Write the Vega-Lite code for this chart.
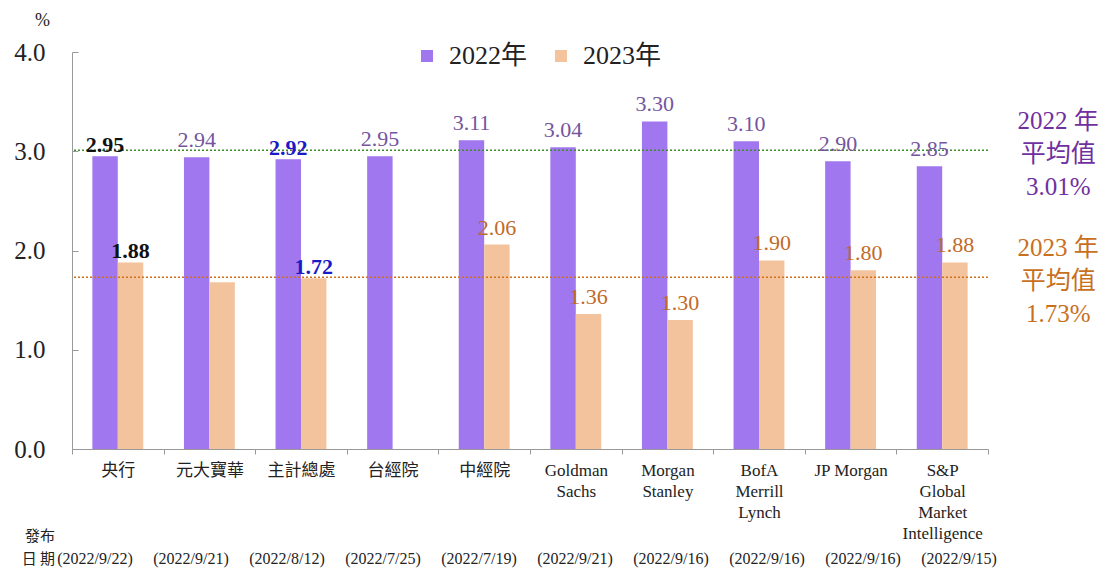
{
  "$schema": "https://vega.github.io/schema/vega-lite/v6.json",
  "width": 916,
  "height": 397,
  "autosize": {"type": "none"},
  "padding": {"left": 72, "top": 52, "right": 122, "bottom": 120},
  "background": "white",
  "config": {"view": {"stroke": null}},
  "datasets": {
    "vals": [
      {"org": "央行", "year": "2022年", "value": 2.95, "label": "2.95"},
      {"org": "央行", "year": "2023年", "value": 1.88, "label": "1.88"},
      {"org": "元大寶華", "year": "2022年", "value": 2.94, "label": "2.94"},
      {"org": "元大寶華", "year": "2023年", "value": 1.68, "label": ""},
      {"org": "主計總處", "year": "2022年", "value": 2.92, "label": "2.92"},
      {"org": "主計總處", "year": "2023年", "value": 1.72, "label": "1.72"},
      {"org": "台經院", "year": "2022年", "value": 2.95, "label": "2.95"},
      {"org": "中經院", "year": "2022年", "value": 3.11, "label": "3.11"},
      {"org": "中經院", "year": "2023年", "value": 2.06, "label": "2.06"},
      {"org": "Goldman|Sachs", "year": "2022年", "value": 3.04, "label": "3.04"},
      {"org": "Goldman|Sachs", "year": "2023年", "value": 1.36, "label": "1.36"},
      {"org": "Morgan|Stanley", "year": "2022年", "value": 3.30, "label": "3.30"},
      {"org": "Morgan|Stanley", "year": "2023年", "value": 1.30, "label": "1.30"},
      {"org": "BofA|Merrill|Lynch", "year": "2022年", "value": 3.10, "label": "3.10"},
      {"org": "BofA|Merrill|Lynch", "year": "2023年", "value": 1.90, "label": "1.90"},
      {"org": "JP Morgan", "year": "2022年", "value": 2.90, "label": "2.90"},
      {"org": "JP Morgan", "year": "2023年", "value": 1.80, "label": "1.80"},
      {"org": "S&P|Global|Market|Intelligence", "year": "2022年", "value": 2.85, "label": "2.85"},
      {"org": "S&P|Global|Market|Intelligence", "year": "2023年", "value": 1.88, "label": "1.88"}
    ],
    "avgs": [
      {"year": "2022年", "avg": 3.01, "note": "2022 年\n平均值\n3.01%"},
      {"year": "2023年", "avg": 1.73, "note": "2023 年\n平均值\n1.73%"}
    ],
    "dates": [
      {"org": "央行", "date": "(2022/9/22)"},
      {"org": "元大寶華", "date": "(2022/9/21)"},
      {"org": "主計總處", "date": "(2022/8/12)"},
      {"org": "台經院", "date": "(2022/7/25)"},
      {"org": "中經院", "date": "(2022/7/19)"},
      {"org": "Goldman|Sachs", "date": "(2022/9/21)"},
      {"org": "Morgan|Stanley", "date": "(2022/9/16)"},
      {"org": "BofA|Merrill|Lynch", "date": "(2022/9/16)"},
      {"org": "JP Morgan", "date": "(2022/9/16)"},
      {"org": "S&P|Global|Market|Intelligence", "date": "(2022/9/15)"}
    ]
  },
  "resolve": {"scale": {"x": "independent"}, "axis": {"x": "independent"}},
  "layer": [
    {
      "layer": [
        {
          "data": {"name": "vals"},
          "mark": {"type": "bar"},
          "encoding": {
            "x": {
              "field": "org", "type": "nominal",
              "sort": ["央行", "元大寶華", "主計總處", "台經院", "中經院", "Goldman|Sachs", "Morgan|Stanley", "BofA|Merrill|Lynch", "JP Morgan", "S&P|Global|Market|Intelligence"],
              "scale": {"domain": ["央行", "元大寶華", "主計總處", "台經院", "中經院", "Goldman|Sachs", "Morgan|Stanley", "BofA|Merrill|Lynch", "JP Morgan", "S&P|Global|Market|Intelligence"], "paddingInner": 0, "paddingOuter": 0},
              "axis": {
                "title": null, "labelExpr": "datum.label ? split(datum.label, '|') : ''", "labelAngle": 0,
                "labelFont": "Liberation Serif, Noto Sans CJK TC", "labelFontSize": 17, "labelLineHeight": 21,
                "labelColor": "#222", "labelPadding": 8, "labelBaseline": "top", "labelLimit": 0,
                "tickBand": "extent", "tickSize": 5, "tickColor": "#999", "domainColor": "#999", "grid": false
              }
            },
            "xOffset": {"field": "year", "type": "nominal", "scale": {"domain": ["2022年", "2023年"], "paddingInner": 0, "paddingOuter": 0.8}},
            "y": {
              "field": "value", "type": "quantitative",
              "scale": {"domain": [0, 4], "nice": false},
              "axis": {
                "values": [0, 1, 2, 3, 4], "format": ".1f", "grid": false,
                "labelFont": "Liberation Serif", "labelFontSize": 25, "labelColor": "#222",
                "domainColor": "#999", "tickColor": "#999", "tickSize": -6, "labelPadding": 33,
                "title": "%", "titleAngle": 0, "titleX": -30, "titleY": -32, "titleFont": "Liberation Serif",
                "titleFontSize": 18, "titleFontWeight": "normal", "titleColor": "#222", "titleAlign": "center", "titleBaseline": "middle"
              }
            },
            "color": {
              "field": "year", "type": "nominal",
              "scale": {"domain": ["2022年", "2023年"], "range": ["#a077ee", "#f3c39e"]},
              "legend": {
                "orient": "none", "legendX": 342, "legendY": -9, "direction": "horizontal", "title": null,
                "symbolType": "square", "symbolSize": 144, "symbolStrokeWidth": 0, "labelOffset": 9,
                "labelFont": "Liberation Serif, Noto Sans CJK TC", "labelFontSize": 26, "labelColor": "#222", "columnPadding": 20
              }
            }
          }
        },
        {
          "data": {"name": "avgs"},
          "mark": {"type": "rule", "strokeDash": [2, 2], "strokeWidth": 1.5},
          "encoding": {
            "y": {"field": "avg", "type": "quantitative"},
            "color": {"condition": {"test": "datum.year === '2022年'", "value": "#3f8a2a"}, "value": "#d0701a"}
          }
        },
        {
          "data": {"name": "vals"},
          "transform": [{"filter": "datum.org !== '央行' && datum.org !== '主計總處'"}],
          "mark": {"type": "text", "font": "Liberation Serif", "fontSize": 22, "baseline": "alphabetic", "dy": -10},
          "encoding": {
            "x": {"field": "org", "type": "nominal"},
            "xOffset": {"field": "year", "type": "nominal"},
            "y": {"field": "value", "type": "quantitative"},
            "text": {"field": "label"},
            "color": {"condition": {"test": "datum.year === '2022年'", "value": "#74559e"}, "value": "#c26a28"}
          }
        },
        {
          "data": {"name": "vals"},
          "transform": [{"filter": "datum.org === '央行' || datum.org === '主計總處'"}],
          "mark": {"type": "text", "font": "Liberation Serif", "fontSize": 22, "fontWeight": "bold", "baseline": "alphabetic", "dy": -4},
          "encoding": {
            "x": {"field": "org", "type": "nominal"},
            "xOffset": {"field": "year", "type": "nominal"},
            "y": {"field": "value", "type": "quantitative"},
            "text": {"field": "label"},
            "color": {"condition": {"test": "datum.org === '央行'", "value": "#111111"}, "value": "#1a1ac8"}
          }
        },
        {
          "data": {"name": "avgs"},
          "mark": {"type": "text", "font": "Liberation Serif, Noto Sans CJK TC", "fontSize": 25, "lineBreak": "\n", "lineHeight": 33, "baseline": "middle", "dx": 116, "dy": -29},
          "encoding": {
            "x": {"datum": "S&P|Global|Market|Intelligence", "type": "nominal"},
            "y": {"field": "avg", "type": "quantitative"},
            "text": {"field": "note"},
            "color": {"condition": {"test": "datum.year === '2022年'", "value": "#7030a0"}, "value": "#c8701e"}
          }
        }
      ]
    },
    {
      "layer": [
        {
          "data": {"name": "dates"},
          "mark": {"type": "text", "font": "Liberation Serif", "fontSize": 16, "baseline": "middle", "dy": 110, "color": "#222"},
          "encoding": {
            "x": {
              "field": "org", "type": "nominal",
              "sort": ["央行", "元大寶華", "主計總處", "台經院", "中經院", "Goldman|Sachs", "Morgan|Stanley", "BofA|Merrill|Lynch", "JP Morgan", "S&P|Global|Market|Intelligence"],
              "scale": {"domain": ["央行", "元大寶華", "主計總處", "台經院", "中經院", "Goldman|Sachs", "Morgan|Stanley", "BofA|Merrill|Lynch", "JP Morgan", "S&P|Global|Market|Intelligence"], "range": [-25, 935], "paddingInner": 0, "paddingOuter": 0},
              "axis": null
            },
            "y": {"datum": 0, "type": "quantitative"},
            "text": {"field": "date"}
          }
        },
        {
          "data": {"values": [{"t": "發布\n日 期"}]},
          "mark": {"type": "text", "font": "Noto Sans CJK TC", "fontSize": 15, "align": "right", "baseline": "middle", "lineBreak": "\n", "lineHeight": 23, "dx": -40, "dy": 87, "color": "#222"},
          "encoding": {
            "x": {"datum": "央行", "type": "nominal", "axis": null},
            "y": {"datum": 0, "type": "quantitative"},
            "text": {"field": "t"}
          }
        }
      ]
    }
  ]
}
